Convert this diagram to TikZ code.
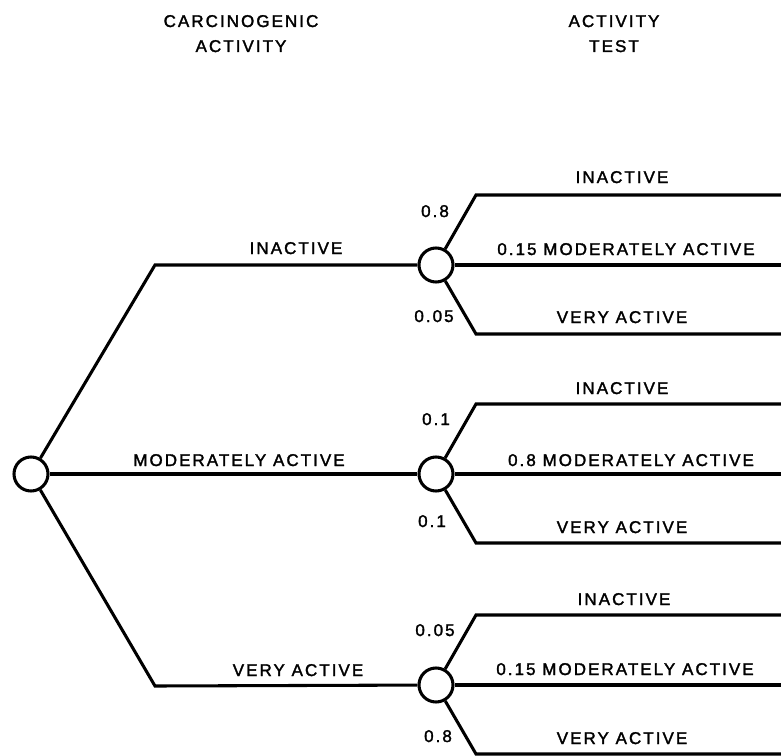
\documentclass[tikz,border=0pt]{standalone}
\usepackage{fontspec}
\newfontfamily\treefont[LetterSpace=12,FakeBold=1.8]{Liberation Sans}
\begin{document}
\begin{tikzpicture}[x=0.75pt,y=-0.75pt,
  branch/.style={line width=2.3pt, line join=miter},
  chance/.style={circle, draw, line width=2.3pt, fill=white, inner sep=0pt, minimum size=25.5pt},
  lbl/.style={font={\treefont\fontsize{12.75pt}{15pt}\selectfont}, inner sep=0pt, anchor=base}]
\useasboundingbox (0,0) rectangle (781,756);

% column headings
\node[lbl] (h1a) at (241,27) {CARCINOGENIC};
\node[lbl] (h1b) at (241,52) {ACTIVITY};
\node[lbl] (h2a) at (614,27) {ACTIVITY};
\node[lbl] (h2b) at (614,52) {TEST};

% chance nodes
\node[chance] (root) at (31,474) {};
\node[chance] (nI) at (436,265) {};
\node[chance] (nM) at (436,474) {};
\node[chance] (nV) at (436,685) {};

% first-stage corners
\coordinate (kI) at (155,265);
\coordinate (kV) at (155,686);

\draw[branch] (root) -- (kI) -- (nI);
\draw[branch] (root) -- (nM);
\draw[branch] (root) -- (kV) -- (nV);

\node[lbl] (lI) at (296,254) {INACTIVE};
\node[lbl] (lM) at (239,466) {MODERATELY ACTIVE};
\node[lbl] (lV) at (298,676) {VERY ACTIVE};

% second-stage branches of each chance node
\foreach \n/\y in {nI/265, nM/474, nV/685}{
  \coordinate (\n-u) at (476,\y-70);
  \coordinate (\n-d) at (476,\y+69);
  \coordinate (\n-ue) at (781,\y-70);
  \coordinate (\n-me) at (781,\y);
  \coordinate (\n-de) at (781,\y+69);
  \draw[branch] (\n) -- (\n-u) -- (\n-ue);
  \draw[branch] (\n) -- (\n-me);
  \draw[branch] (\n) -- (\n-d) -- (\n-de);
}

% outcome labels
\node[lbl] (tI1) at (622,183) {INACTIVE};
\node[lbl] (tI2) at (626,255) {0.15 MODERATELY ACTIVE};
\node[lbl] (tI3) at (622,323) {VERY ACTIVE};
\node[lbl] (tM1) at (622,394) {INACTIVE};
\node[lbl] (tM2) at (631,466) {0.8 MODERATELY ACTIVE};
\node[lbl] (tM3) at (622,533) {VERY ACTIVE};
\node[lbl] (tV1) at (624,605) {INACTIVE};
\node[lbl] (tV2) at (625,675) {0.15 MODERATELY ACTIVE};
\node[lbl] (tV3) at (622,744) {VERY ACTIVE};

% probabilities
\node[lbl] (pI1) at (435,217) {0.8};
\node[lbl] (pI3) at (434,322) {0.05};
\node[lbl] (pM1) at (436,425) {0.1};
\node[lbl] (pM3) at (432,527) {0.1};
\node[lbl] (pV1) at (435,636) {0.05};
\node[lbl] (pV3) at (438,742) {0.8};
\end{tikzpicture}
\end{document}
